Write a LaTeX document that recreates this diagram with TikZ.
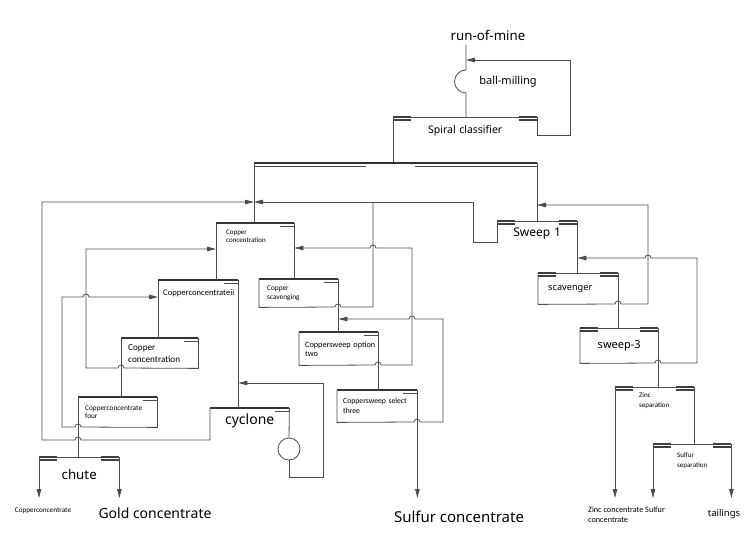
\documentclass[tikz,border=0pt]{standalone}
\usepackage{fontspec}
\setmainfont{Noto Sans}
\newfontfamily\notefont{Carlito}
\usetikzlibrary{arrows.meta}

\tikzset{
  flow/.style={line width=0.8pt, draw=black!70},
  arrowflow/.style={flow, -{Triangle[length=9pt,width=4.5pt]}},
  cell/.style n args={3}{anchor=north west, inner sep=0pt, minimum width=#1pt,
    minimum height=#2pt, text width=#3pt, align=left},
  bigtext/.style={font=\fontsize{#1}{16}\selectfont},
  midtext/.style={font=\fontsize{#1}{11}\selectfont},
  note/.style 2 args={font=\notefont\fontsize{#1}{#2}\selectfont},
}

\begin{document}
\begin{tikzpicture}[x=1pt,y=1pt]
\useasboundingbox (0,0) rectangle (746,-537);
%% cells
\node[cell={144}{28}{144}, align=center, midtext=10.5] (cls) at (393,-117) {Spiral classifier};
\node[cell={78}{26}{58}, note={7}{8}] (cc1) at (216,-223) {Copper\\concentration};
\node[cell={80}{26}{70}, note={8.6}{8}] (ccii) at (158,-280) {Copperconcentrateii};
\node[cell={77}{30}{63}, note={9.2}{12}] (ccc) at (121,-338) {Copper\\concentration};
\node[cell={79}{30}{65}, note={7.3}{8}] (ccf) at (78,-397) {Copperconcentrate\\four};
\node[cell={79}{28}{63}, note={7.3}{9}] (csv) at (259,-279) {Copper\\scavenging};
\node[cell={79}{33}{67}, note={8.2}{9}] (cso) at (299,-332) {\mbox{Coppersweep option}\\two};
\node[cell={80}{32}{68}, note={7.7}{10}] (css) at (337,-390) {\mbox{Coppersweep select}\\three};
\node[cell={79}{26}{79}, align=center, bigtext=14] (cyc) at (210,-408) {cyclone};
\node[cell={80}{34}{80}, align=center, bigtext=13.3] (chute) at (39,-457) {chute};
\node[cell={80}{24}{80}, align=center, bigtext=12] (swa) at (497,-221) {Sweep 1};
\node[cell={80}{31}{60}, midtext=9.2] (scv) at (538,-273) {scavenger};
\node[cell={78}{35}{78}, align=center, bigtext=11] (swc) at (580,-328) {sweep-3};
\node[cell={79}{26}{31}, note={7}{10}] (zns) at (615,-387) {Zinc\\separation};
\node[cell={78}{32}{30}, note={7}{10}] (sfs) at (653,-444) {Sulfur\\separation};
\node[circle, flow, draw, minimum size=22pt, inner sep=0pt] (cycc) at (289,-449) {};
%% feed and products
\node[bigtext=13.3] (rom) at (488,-35) {run-of-mine};
\node[midtext=11] (bml) at (508,-82) {ball-milling};
\node[note={7.2}{8}] (cuc) at (43,-511) {Copperconcentrate};
\node[bigtext=14] (auc) at (155,-513) {Gold concentrate};
\node[bigtext=15] (suc) at (459,-517) {Sulfur concentrate};
\node[note={8.2}{10}, anchor=north west, align=left, inner sep=0pt] (znc) at (588,-507) {Zinc concentrate Sulfur\\concentrate};
\node[midtext=9.5] (tail) at (724,-514) {tailings};
\coordinate (feed) at (466,-45);
\coordinate (ret) at (570,-60);
\coordinate (bl) at (254,-163);
\coordinate (br) at (537,-163);
\coordinate (fl) at (42,-202);
\coordinate (fr) at (473,-202);
\coordinate (outy) at (0,-498);
%% cell tops
\foreach \n in {cc1,ccii,ccc,ccf,csv,cso,css,cyc}{
  \draw[line width=1.3pt, black!80] (\n.north west) -- (\n.north east);
  \draw[line width=0.7pt, black!70] ([shift={(-14,-3)}]\n.north east) -- ++(14,0);
}
\foreach \n in {cls,chute,swa,scv,swc,zns,sfs}{
  \draw[flow] (\n.north west) -- (\n.north east);
  \draw[line width=1.2pt, black!75] (\n.north west) -- ++(18,0) ++(0,-3) -- ++(-18,0)
    (\n.north east) -- ++(-18,0) ++(0,-3) -- ++(18,0);
}
%% grinding and classifying
\draw[flow] (feed) -- ++(0,-25) arc[start angle=90, end angle=270, radius=11.5pt] -- (feed |- cls.north);
\draw[arrowflow] (cls.north east) -- ++(0,-18) -| (ret) -- (ret -| feed);
\draw[flow] (cls.north west) -- (cls.north west |- bl);
\draw[line width=1.6pt, black!80] (bl) -- (br);
\draw[line width=0.8pt, black!70] ([yshift=-3.5pt]bl) -- ++(112,0) ([yshift=-3.5pt]br) -- ++(-122,0);
\draw[flow] (bl) -- (bl |- cc1.north);
\draw[flow] (br) -- (br |- swa.north);
%% copper circuit
\draw[arrowflow] (cyc.north west) -- ++(0,-32) -- (81,-440) arc[start angle=0, end angle=180, radius=3pt] -- (fl |- 0,-440) -- (fl) -- (fl -| bl);
\draw[arrowflow] (swa.north west) -- ++(0,-21) -| (fr) -- (fr -| bl);
\draw[flow] (csv.north west) -- (csv.south west) -- (335,-307) arc[start angle=180, end angle=0, radius=3pt] -- (373,-307) -- (fr -| 373,0);
\draw[arrowflow] (cso.north west) -- (cso.south west) -- (375,-365) arc[start angle=180, end angle=0, radius=3pt] -- (412,-365) -- (412,-248) -- (376,-248) arc[start angle=0, end angle=180, radius=3pt] -- (cc1.north east |- 0,-248);
\draw[arrowflow] (css.north west) -- (css.south west) -- (414,-422) arc[start angle=180, end angle=0, radius=3pt] -- (443,-422) -- (443,-319) -- (415,-319) arc[start angle=0, end angle=180, radius=3pt] -- (csv.north east |- 0,-319);
\draw[flow] (cc1.north east) -- (cc1.north east |- csv.north);
\draw[flow] (csv.north east) -- (csv.north east |- cso.north);
\draw[flow] (cso.north east) -- (cso.north east |- css.north);
\draw[arrowflow] (css.north east) -- (css.north east |- outy);
\draw[flow] (cc1.north west) -- (cc1.north west |- ccii.north);
\draw[flow] (ccii.north east) -- (ccii.north east |- cyc.north);
\draw[flow] (ccii.north west) -- (ccii.north west |- ccc.north);
\draw[flow] (ccc.north west) -- (ccc.north west |- ccf.north);
\draw[flow] (ccf.north west) -- (ccf.north west |- chute.north);
\draw[arrowflow] (ccc.north east) -- (ccc.south east) -- (124,-368) arc[start angle=0, end angle=180, radius=3pt] -- (86,-368) -- (86,-249) -- (cc1.north west |- 0,-249);
\draw[arrowflow] (ccf.north east) -- (ccf.south east) -- (81,-427) arc[start angle=0, end angle=180, radius=3pt] -- (62,-427) -- (62,-297) -- (83,-297) arc[start angle=180, end angle=0, radius=3pt] -- (ccii.north west |- 0,-297);
\draw[flow] (cyc.north east) -- (cycc.north);
\draw[arrowflow] (cycc.south) -- ++(0,-17) -| (323,-383) -- (ccii.north east |- 0,-383);
\draw[arrowflow] (chute.north west) -- (chute.north west |- outy);
\draw[arrowflow] (chute.north east) -- (chute.north east |- outy);
%% zinc and sulfur circuit
\draw[flow] (swa.north east) -- (swa.north east |- scv.north);
\draw[arrowflow] (scv.north west) -- (scv.south west) -- (615,-304) arc[start angle=180, end angle=0, radius=3pt] -- (648,-304) -- (648,-205) -- (br |- 0,-205);
\draw[flow] (scv.north east) -- (scv.north east |- swc.north);
\draw[arrowflow] (swc.north west) -- (swc.south west) -- (655,-363) arc[start angle=180, end angle=0, radius=3pt] -- (697,-363) -- (697,-258) -- (651,-258) arc[start angle=0, end angle=180, radius=3pt] -- (swa.north east |- 0,-258);
\draw[flow] (swc.north east) -- (swc.north east |- zns.north);
\draw[arrowflow] (zns.north west) -- (zns.north west |- outy);
\draw[flow] (zns.north east) -- (zns.north east |- sfs.north);
\draw[arrowflow] (sfs.north west) -- (sfs.north west |- outy);
\draw[arrowflow] (sfs.north east) -- (sfs.north east |- outy);
\end{tikzpicture}
\end{document}
